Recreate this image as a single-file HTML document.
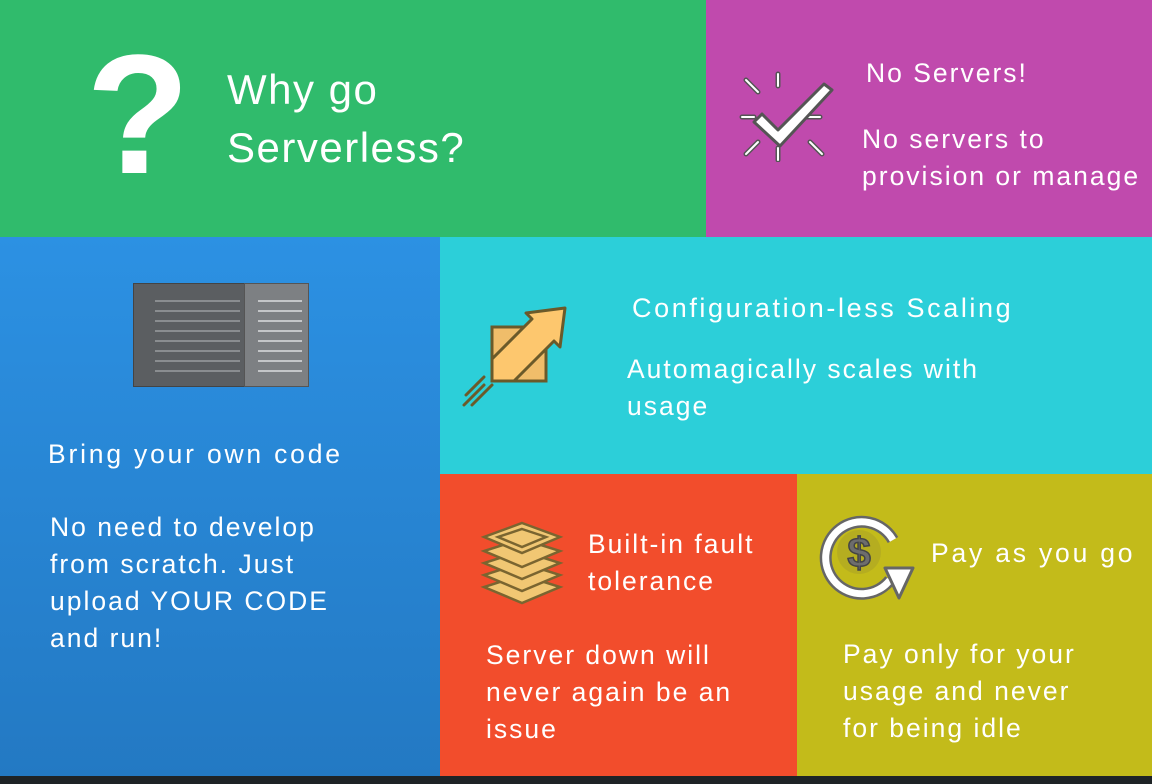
<!DOCTYPE html>
<html><head><meta charset="utf-8"><style>
body{margin:0;width:1152px;height:784px;background:#1e2326;position:relative;overflow:hidden;font-family:"Liberation Sans","DejaVu Sans",sans-serif;color:#fff}
.b{position:absolute}
.t{position:absolute;white-space:nowrap;font-size:26.5px;letter-spacing:2px;line-height:37px}
</style></head><body>
<div class="b" style="left:0;top:0;width:706px;height:237px;background:#30bb6c"></div>
<div class="b" style="left:706px;top:0;width:446px;height:237px;background:#c04aad"></div>
<div class="b" style="left:0;top:237px;width:440px;height:539px;background:linear-gradient(#2c91e3,#2379c3)"></div>
<div class="b" style="left:440px;top:237px;width:712px;height:237px;background:#2ccfd9"></div>
<div class="b" style="left:440px;top:474px;width:357px;height:302px;background:#f24d2c"></div>
<div class="b" style="left:797px;top:474px;width:355px;height:302px;background:#c3bb1a"></div>

<div class="t" style="left:86px;top:30px;font-size:170px;line-height:170px;font-weight:bold;letter-spacing:0">?</div>
<div class="t" style="left:227px;top:61px;font-size:42px;line-height:58px;letter-spacing:1.5px">Why go<br>Serverless?</div>

<svg class="b" style="left:736px;top:70px" width="100" height="92" viewBox="0 0 100 92">
<g stroke="#555" stroke-width="5" stroke-linecap="round"><line x1="10" y1="10" x2="22" y2="22"/><line x1="42" y1="4" x2="42" y2="16"/><line x1="6" y1="47" x2="18" y2="47"/><line x1="10" y1="84" x2="22" y2="72"/><line x1="42" y1="78" x2="42" y2="90"/><line x1="74" y1="72" x2="86" y2="84"/><line x1="70" y1="47" x2="84" y2="47"/></g>
<g stroke="#fff" stroke-width="2" stroke-linecap="round"><line x1="10" y1="10" x2="22" y2="22"/><line x1="42" y1="4" x2="42" y2="16"/><line x1="6" y1="47" x2="18" y2="47"/><line x1="10" y1="84" x2="22" y2="72"/><line x1="42" y1="78" x2="42" y2="90"/><line x1="74" y1="72" x2="86" y2="84"/><line x1="70" y1="47" x2="84" y2="47"/></g>
<path d="M26 44 L42 60 L88 14 L96 20 L44 76 L18 52 Z" fill="#fff" stroke="#555" stroke-width="3" stroke-linejoin="round"/>
</svg>
<div class="t" style="left:866px;top:55px">No Servers!</div>
<div class="t" style="left:862px;top:121px">No servers to<br>provision or manage</div>

<div class="b" style="left:133px;top:283px;width:110px;height:102px;background:#5b5e61;border:1px solid #444"></div>
<div class="b" style="left:244px;top:283px;width:63px;height:102px;background:#7d8083;border:1px solid #555"></div>
<div class="b" style="left:155px;top:295px;width:85px;height:85px;background:repeating-linear-gradient(#5b5e61 0 5px,#8a8d90 5px 7px,#5b5e61 7px 10px)"></div>
<div class="b" style="left:258px;top:295px;width:44px;height:85px;background:repeating-linear-gradient(#7d8083 0 5px,#c4c6c8 5px 7px,#7d8083 7px 10px)"></div>
<div class="t" style="left:48px;top:436px;letter-spacing:2.8px">Bring your own code</div>
<div class="t" style="left:50px;top:509px">No need to develop<br>from scratch. Just<br>upload YOUR CODE<br>and run!</div>

<svg class="b" style="left:460px;top:305px" width="110" height="105" viewBox="0 0 110 105">
<g stroke="#6b5a2a" stroke-width="3" stroke-linecap="round"><line x1="4" y1="100" x2="24" y2="80"/><line x1="12" y1="100" x2="32" y2="80"/><line x1="6" y1="90" x2="24" y2="72"/></g>
<rect x="32" y="22" width="54" height="54" fill="#f0bd6a" stroke="#6b5a2a" stroke-width="3"/>
<path d="M32 54 L72 14 L66 8 L105 3 L100 42 L94 36 L54 76 L32 76 Z" fill="#fdc76e" stroke="#6b5a2a" stroke-width="3" stroke-linejoin="round"/>
</svg>
<div class="t" style="left:632px;top:290px;font-size:27px;letter-spacing:2.6px">Configuration-less Scaling</div>
<div class="t" style="left:627px;top:351px">Automagically scales with<br>usage</div>

<svg class="b" style="left:480px;top:515px" width="84" height="95" viewBox="0 0 84 95">
<g fill="#f1c773" stroke="#7a6530" stroke-width="2.5"><path d="M42 60 L80 72 L42 88 L4 72 Z"/><path d="M42 48 L80 60 L42 76 L4 60 Z"/><path d="M42 36 L80 48 L42 64 L4 48 Z"/><path d="M42 24 L80 36 L42 52 L4 36 Z"/><path d="M42 8 L80 22 L42 38 L4 22 Z"/><path d="M42 14 L66 22 L42 32 L18 22 Z" fill="none"/></g>
</svg>
<div class="t" style="left:588px;top:526px">Built-in fault<br>tolerance</div>
<div class="t" style="left:486px;top:637px">Server down will<br>never again be an<br>issue</div>

<svg class="b" style="left:815px;top:510px" width="100" height="98" viewBox="0 0 100 98">
<path d="M75 70 A36 36 0 1 1 78 30" fill="none" stroke="#666" stroke-width="12"/>
<path d="M75 70 A36 36 0 1 1 78 30" fill="none" stroke="#fff" stroke-width="7"/>
<path d="M70 58 L98 58 L84 88 Z" fill="#fff" stroke="#666" stroke-width="3" stroke-linejoin="round"/>
<circle cx="44" cy="42" r="22" fill="#b5ad20"/>
<text x="44" y="57" font-size="42" font-weight="bold" text-anchor="middle" fill="#6d6d6d" stroke="#444" stroke-width="1.5" font-family="Liberation Sans">$</text>
</svg>
<div class="t" style="left:931px;top:535px;letter-spacing:2.8px">Pay as you go</div>
<div class="t" style="left:843px;top:636px">Pay only for your<br>usage and never<br>for being idle</div>
</body></html>
